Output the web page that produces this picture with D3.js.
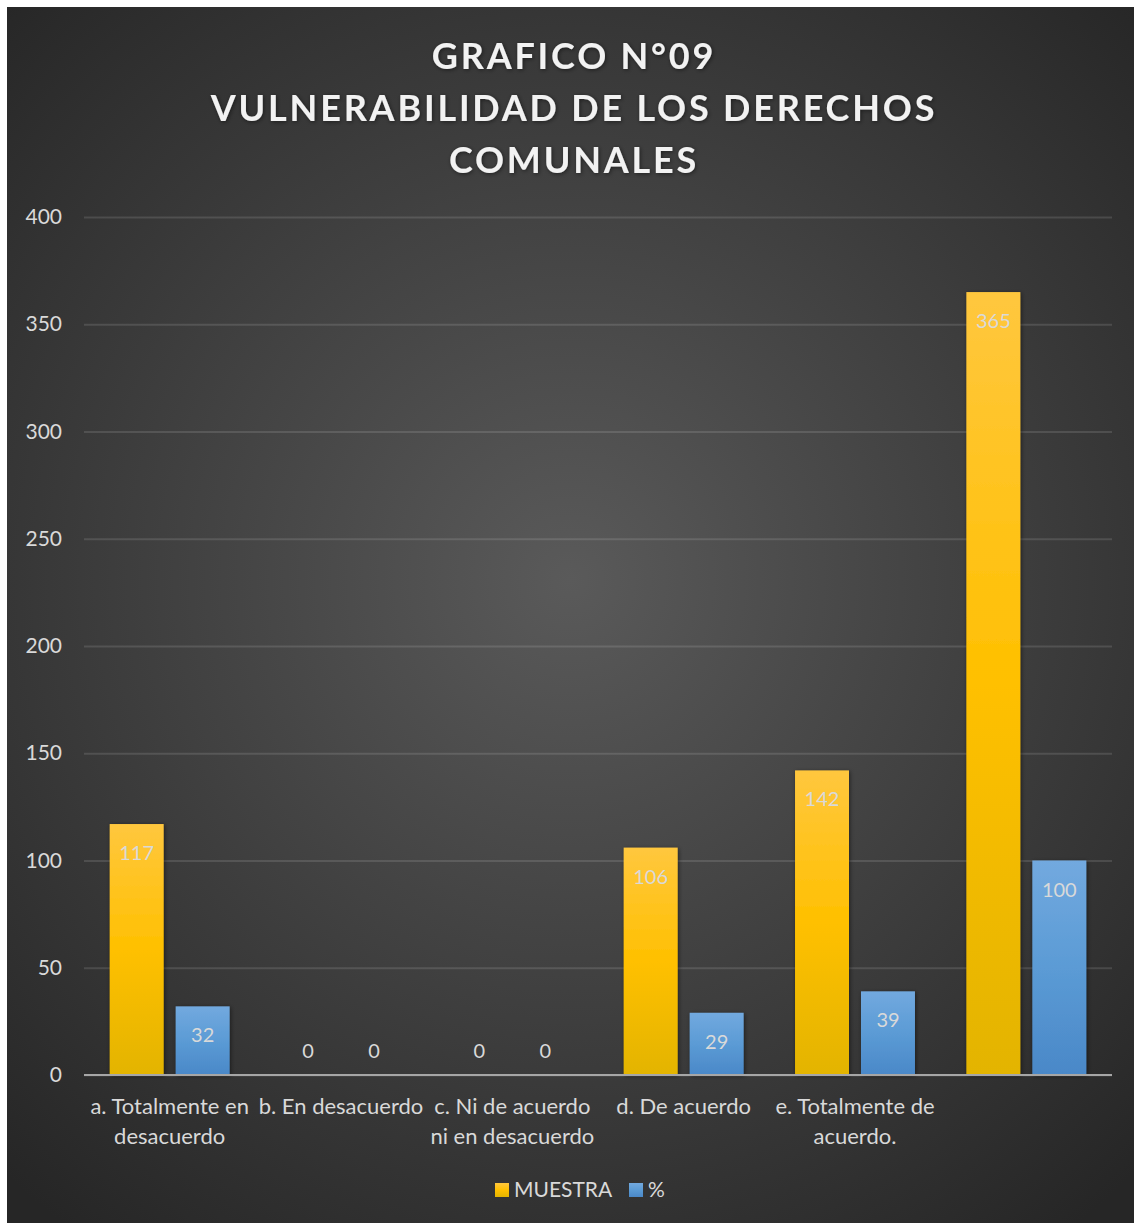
<!DOCTYPE html>
<html><head><meta charset="utf-8">
<script src="https://cdn.jsdelivr.net/npm/d3@7"></script>
<style>html,body{margin:0;padding:0;background:#fff;}svg{display:block;}</style>
</head><body>
<svg id="chart" width="1134" height="1223"></svg>
<script>
const categories = [["a. Totalmente en","desacuerdo"],["b. En desacuerdo"],["c. Ni de acuerdo","ni en desacuerdo"],["d. De acuerdo"],["e. Totalmente de","acuerdo."],[""]];
const muestra = [117, 0, 0, 106, 142, 365];
const pct = [32, 0, 0, 29, 39, 100];
const seriesNames = ["MUESTRA", "%"];
const yTicks = [0, 50, 100, 150, 200, 250, 300, 350, 400];
const titleLines = ["GRAFICO N°09", "VULNERABILIDAD DE LOS DERECHOS", "COMUNALES"];

const svg = d3.select("#chart");
const defs = svg.append("defs");
const bg = defs.append("radialGradient").attr("id","bg").attr("gradientUnits","userSpaceOnUse")
  .attr("cx",570).attr("cy",580).attr("r",820);
bg.append("stop").attr("offset","0%").attr("stop-color","#5a5a5a");
bg.append("stop").attr("offset","100%").attr("stop-color","#262626");
const go = defs.append("linearGradient").attr("id","gOrange").attr("x1",0).attr("y1",0).attr("x2",0).attr("y2",1);
go.append("stop").attr("offset","0%").attr("stop-color","#ffc73e");
go.append("stop").attr("offset","50%").attr("stop-color","#ffc000");
go.append("stop").attr("offset","100%").attr("stop-color","#e3b400");
const gb = defs.append("linearGradient").attr("id","gBlue").attr("x1",0).attr("y1",0).attr("x2",0).attr("y2",1);
gb.append("stop").attr("offset","0%").attr("stop-color","#72a9df");
gb.append("stop").attr("offset","50%").attr("stop-color","#5b9bd5");
gb.append("stop").attr("offset","100%").attr("stop-color","#4a88c8");
const sh = defs.append("filter").attr("id","sh").attr("x","-20%").attr("y","-20%").attr("width","140%").attr("height","140%");
sh.append("feDropShadow").attr("dx",1).attr("dy",1).attr("stdDeviation",2).attr("flood-color","#000").attr("flood-opacity",0.5);

svg.append("rect").attr("x",7).attr("y",7).attr("width",1127).attr("height",1216).attr("fill","url(#bg)");

const font = "Lato, 'Open Sans', sans-serif";
// Title
svg.append("g").selectAll("text").data(titleLines).join("text")
  .attr("x",574).attr("y",(d,i)=>69+i*52).attr("text-anchor","middle")
  .attr("font-family",font).attr("font-weight","bold").attr("font-size",36)
  .attr("letter-spacing",2.8).attr("fill","#f2f2f2").attr("filter","url(#sh)").text(d=>d);

const x0 = d3.scaleBand().domain(d3.range(categories.length)).range([84,1112]).paddingInner(0).paddingOuter(0);
const x1 = d3.scaleBand().domain([0,1]).range([25.7, x0.bandwidth()-25.7]).paddingInner(0.182);
const y = d3.scaleLinear().domain([0,400]).range([1075,217]);

// grid
const yAxis = d3.axisLeft(y).tickValues(yTicks).tickSize(-(1112-84)).tickFormat(d3.format("d"));
const ga = svg.append("g").attr("transform","translate(84,0)").call(yAxis);
ga.select(".domain").remove();
ga.selectAll(".tick line").attr("stroke","#ffffff").attr("stroke-opacity",0.12).attr("stroke-width",2);
ga.selectAll(".tick text").attr("x",-22).attr("font-family",font).attr("font-size",21).attr("fill","#d9d9d9");

// bars
const series = [muestra, pct];
const fills = ["url(#gOrange)","url(#gBlue)"];
series.forEach((vals,s)=>{
  const g = svg.append("g");
  g.selectAll("rect").data(vals).join("rect")
    .attr("x",(d,i)=>x0(i)+x1(s)).attr("width",x1.bandwidth())
    .attr("y",d=>y(d)).attr("height",d=>y(0)-y(d)).attr("fill",fills[s])
    .attr("filter","url(#sh)");
  g.selectAll("text").data(vals).join("text")
    .attr("x",(d,i)=>x0(i)+x1(s)+x1.bandwidth()/2)
    .attr("y",d=> d===0 ? y(0)-17 : y(d)+36)
    .attr("text-anchor","middle").attr("font-family",font).attr("font-size",20)
    .attr("fill","#d9d9d9").text(d=>d);
});

// x axis line
svg.append("line").attr("x1",84).attr("x2",1112).attr("y1",y(0)).attr("y2",y(0))
  .attr("stroke","#a6a6a6").attr("stroke-width",2);

// category labels
const cl = svg.append("g");
categories.forEach((lines,i)=>{
  lines.forEach((t,j)=>{
    cl.append("text").attr("x",x0(i)+x0.bandwidth()/2).attr("y",1114+j*30)
      .attr("text-anchor","middle").attr("font-family",font).attr("font-size",22)
      .attr("fill","#d9d9d9").text(t);
  });
});

// legend
const leg = svg.append("g");
const legX = [495, 629];
seriesNames.forEach((n,i)=>{
  leg.append("rect").attr("x",legX[i]).attr("y",1183).attr("width",14).attr("height",14).attr("fill",fills[i]);
  leg.append("text").attr("x",legX[i]+19).attr("y",1197).attr("font-family",font).attr("font-size",21)
    .attr("fill","#d9d9d9").text(n);
});
</script>
</body></html>
